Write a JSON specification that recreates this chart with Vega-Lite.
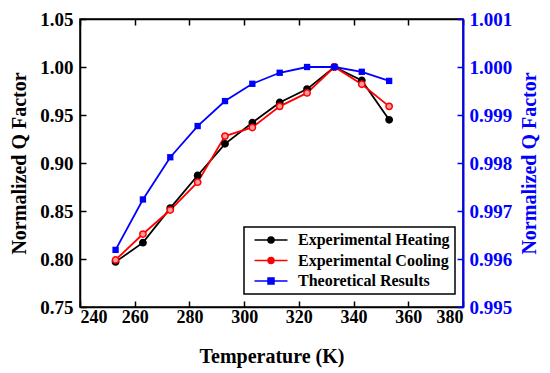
{
  "$schema": "https://vega.github.io/schema/vega-lite/v6.json",
  "width": 383,
  "height": 288,
  "autosize": {"type": "none"},
  "padding": {"left": 80, "top": 19, "right": 87, "bottom": 66},
  "background": "white",
  "config": {
    "view": {"stroke": "black", "strokeWidth": 1.5},
    "font": "Liberation Serif",
    "axis": {
      "labelFont": "Liberation Serif",
      "titleFont": "Liberation Serif",
      "labelFontWeight": "bold",
      "titleFontWeight": "bold",
      "labelFontSize": 19,
      "titleFontSize": 20,
      "grid": false,
      "tickSize": -6,
      "tickWidth": 1.5,
      "domainWidth": 1.5,
      "labelPadding": 13,
      "domainColor": "black",
      "tickColor": "black",
      "labelColor": "black",
      "titleColor": "black"
    }
  },
  "datasets": {
    "exp": [
      {"T": 253, "series": "Experimental Heating", "Q": 0.797},
      {"T": 263, "series": "Experimental Heating", "Q": 0.817},
      {"T": 273, "series": "Experimental Heating", "Q": 0.853},
      {"T": 283, "series": "Experimental Heating", "Q": 0.887},
      {"T": 293, "series": "Experimental Heating", "Q": 0.920},
      {"T": 303, "series": "Experimental Heating", "Q": 0.942},
      {"T": 313, "series": "Experimental Heating", "Q": 0.963},
      {"T": 323, "series": "Experimental Heating", "Q": 0.977},
      {"T": 333, "series": "Experimental Heating", "Q": 1.000},
      {"T": 343, "series": "Experimental Heating", "Q": 0.986},
      {"T": 353, "series": "Experimental Heating", "Q": 0.945},
      {"T": 253, "series": "Experimental Cooling", "Q": 0.799},
      {"T": 263, "series": "Experimental Cooling", "Q": 0.826},
      {"T": 273, "series": "Experimental Cooling", "Q": 0.851},
      {"T": 283, "series": "Experimental Cooling", "Q": 0.880},
      {"T": 293, "series": "Experimental Cooling", "Q": 0.928},
      {"T": 303, "series": "Experimental Cooling", "Q": 0.937},
      {"T": 313, "series": "Experimental Cooling", "Q": 0.959},
      {"T": 323, "series": "Experimental Cooling", "Q": 0.973},
      {"T": 333, "series": "Experimental Cooling", "Q": 1.000},
      {"T": 343, "series": "Experimental Cooling", "Q": 0.982},
      {"T": 353, "series": "Experimental Cooling", "Q": 0.959}
    ],
    "theo": [
      {"T": 253, "series": "Theoretical Results", "Q": 0.99619},
      {"T": 263, "series": "Theoretical Results", "Q": 0.99724},
      {"T": 273, "series": "Theoretical Results", "Q": 0.99812},
      {"T": 283, "series": "Theoretical Results", "Q": 0.99877},
      {"T": 293, "series": "Theoretical Results", "Q": 0.99929},
      {"T": 303, "series": "Theoretical Results", "Q": 0.99965},
      {"T": 313, "series": "Theoretical Results", "Q": 0.99988},
      {"T": 323, "series": "Theoretical Results", "Q": 1.0},
      {"T": 333, "series": "Theoretical Results", "Q": 1.0},
      {"T": 343, "series": "Theoretical Results", "Q": 0.9999},
      {"T": 353, "series": "Theoretical Results", "Q": 0.99971}
    ]
  },
  "layer": [
    {
      "data": {"name": "exp"},
      "encoding": {
        "x": {"field": "T", "type": "quantitative",
              "scale": {"domain": [240, 380], "nice": false},
              "axis": {"values": [240, 260, 280, 300, 320, 340, 360, 380], "title": "Temperature (K)", "titlePadding": 20, "labelFontSize": 18, "labelPadding": 7}},
        "y": {"field": "Q", "type": "quantitative",
              "scale": {"domain": [0.75, 1.05], "nice": false, "zero": false},
              "axis": {"values": [0.75, 0.8, 0.85, 0.9, 0.95, 1.0, 1.05], "format": ".2f", "title": "Normalized Q Factor", "titlePadding": 10}},
        "color": {"field": "series", "type": "nominal",
                  "scale": {"domain": ["Experimental Heating", "Experimental Cooling", "Theoretical Results"], "range": ["black", "red", "blue"]},
                  "legend": {
                    "title": null, "orient": "none", "legendX": 164, "legendY": 208,
                    "strokeColor": "black", "fillColor": "white",
                    "padding": 5, "rowPadding": 4.5,
                    "labelFont": "Liberation Serif", "labelFontWeight": "bold", "labelFontSize": 16, "labelColor": "black",
                    "symbolSize": 100, "symbolStrokeWidth": 1.5, "symbolOffset": 14, "labelOffset": 19,
                    "encode": {
                      "legend": {"update": {"strokeWidth": {"value": 1.5}}},
                      "symbols": {
                        "update": {
                          "shape": [
                            {"test": "datum.value === 'Theoretical Results'", "value": "M-3.3,0H3.3M-0.6,-0.6H0.6V0.6H-0.6Z"},
                            {"value": "M-3.3,0H3.3M0.6,0A0.6,0.6 0 1,1 -0.6,0A0.6,0.6 0 1,1 0.6,0Z"}
                          ],
                          "fill": [
                            {"test": "datum.value === 'Experimental Cooling'", "value": "#ff9a9a"},
                            {"test": "datum.value === 'Theoretical Results'", "value": "blue"},
                            {"value": "black"}
                          ],
                          "fillOpacity": {"value": 1}
                        }
                      }
                    }
                  }}
      },
      "layer": [
        {"mark": {"type": "line", "strokeWidth": 1.8}},
        {"mark": {"type": "point", "shape": "circle", "filled": false, "size": 40, "strokeWidth": 1.5, "opacity": 1},
         "encoding": {
           "fill": {"field": "series", "type": "nominal", "legend": null,
                    "scale": {"domain": ["Experimental Heating", "Experimental Cooling"], "range": ["black", "#ff9a9a"]}}
         }}
      ]
    },
    {
      "data": {"name": "theo"},
      "encoding": {
        "x": {"field": "T", "type": "quantitative",
              "axis": {"orient": "top", "values": [240, 260, 280, 300, 320, 340, 360, 380], "labels": false, "title": null}},
        "y": {"field": "Q", "type": "quantitative",
              "scale": {"domain": [0.995, 1.001], "nice": false, "zero": false},
              "axis": {"orient": "right", "values": [0.995, 0.996, 0.997, 0.998, 0.999, 1.0, 1.001], "format": ".3f",
                       "title": "Normalized Q Factor", "titleAngle": -90, "titlePadding": 28, "labelPadding": 12,
                       "domainColor": "blue", "tickColor": "blue", "labelColor": "blue", "titleColor": "blue", "domainWidth": 2}},
        "color": {"field": "series", "type": "nominal"}
      },
      "layer": [
        {"mark": {"type": "line", "strokeWidth": 1.8}},
        {"mark": {"type": "point", "shape": "square", "filled": true, "size": 40, "opacity": 1}}
      ]
    }
  ],
  "resolve": {"scale": {"y": "independent"}, "axis": {"x": "independent"}}
}
